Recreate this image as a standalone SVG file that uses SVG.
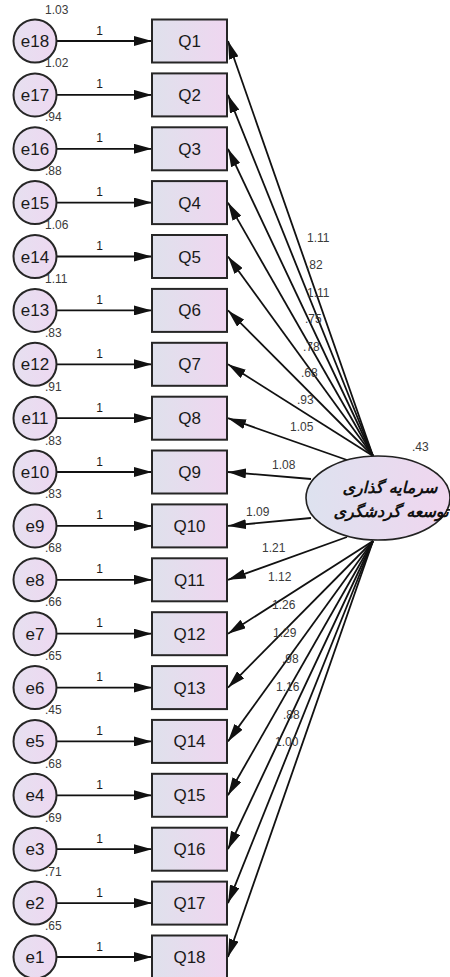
<svg xmlns="http://www.w3.org/2000/svg" width="450" height="977" viewBox="0 0 450 977">
<style>
.box{fill:url(#gb);stroke:#262626;stroke-width:2}
.err{fill:url(#gc);stroke:#262626;stroke-width:2}
.lbl{font-family:"Liberation Sans",Arial,sans-serif;font-size:17px;fill:#1a1a1a;text-anchor:middle}
.num{font-family:"Liberation Sans",Arial,sans-serif;font-size:12px;fill:#3a3a3a}
.one{font-family:"Liberation Sans",Arial,sans-serif;font-size:12px;fill:#1a1a1a;text-anchor:middle}
.ln{stroke:#111;stroke-width:1.8;fill:none;marker-end:url(#ah)}
.fa{font-family:"DejaVu Sans",sans-serif;font-size:16px;font-weight:bold;font-style:italic;fill:#111;text-anchor:middle}
</style>
<defs>
<linearGradient id="gb" x1="0" y1="0" x2="1" y2="0"><stop offset="0" stop-color="#dfe1ec"/><stop offset="1" stop-color="#efd6f0"/></linearGradient>
<linearGradient id="gc" x1="0" y1="0" x2="1" y2="0"><stop offset="0" stop-color="#e6e0f0"/><stop offset="1" stop-color="#eed8f1"/></linearGradient>
<linearGradient id="ge" x1="0" y1="0" x2="1" y2="0"><stop offset="0" stop-color="#dde2ef"/><stop offset="1" stop-color="#f0d6ef"/></linearGradient>
<marker id="ah" markerUnits="userSpaceOnUse" markerWidth="18" markerHeight="10" refX="18" refY="5" orient="auto"><path d="M0,0 L18,5 L0,10 z" fill="#111"/></marker>
</defs>

<g id="connectors">
<line class="ln" x1="57" y1="41" x2="152" y2="41"/>
<line class="ln" x1="57" y1="94.9" x2="152" y2="94.9"/>
<line class="ln" x1="57" y1="148.8" x2="152" y2="148.8"/>
<line class="ln" x1="57" y1="202.6" x2="152" y2="202.6"/>
<line class="ln" x1="57" y1="256.5" x2="152" y2="256.5"/>
<line class="ln" x1="57" y1="310.4" x2="152" y2="310.4"/>
<line class="ln" x1="57" y1="364.3" x2="152" y2="364.3"/>
<line class="ln" x1="57" y1="418.2" x2="152" y2="418.2"/>
<line class="ln" x1="57" y1="472" x2="152" y2="472"/>
<line class="ln" x1="57" y1="525.9" x2="152" y2="525.9"/>
<line class="ln" x1="57" y1="579.8" x2="152" y2="579.8"/>
<line class="ln" x1="57" y1="633.7" x2="152" y2="633.7"/>
<line class="ln" x1="57" y1="687.6" x2="152" y2="687.6"/>
<line class="ln" x1="57" y1="741.4" x2="152" y2="741.4"/>
<line class="ln" x1="57" y1="795.3" x2="152" y2="795.3"/>
<line class="ln" x1="57" y1="849.2" x2="152" y2="849.2"/>
<line class="ln" x1="57" y1="903.1" x2="152" y2="903.1"/>
<line class="ln" x1="57" y1="957" x2="152" y2="957"/>
<line class="ln" x1="373" y1="456" x2="228" y2="41"/>
<line class="ln" x1="373" y1="456" x2="228" y2="94.9"/>
<line class="ln" x1="373" y1="456" x2="228" y2="148.8"/>
<line class="ln" x1="373" y1="456" x2="228" y2="202.6"/>
<line class="ln" x1="373" y1="456" x2="228" y2="256.5"/>
<line class="ln" x1="373" y1="456" x2="228" y2="310.4"/>
<line class="ln" x1="373" y1="456" x2="228" y2="364.3"/>
<line class="ln" x1="347" y1="460" x2="228" y2="418.2"/>
<line class="ln" x1="311" y1="479" x2="228" y2="472"/>
<line class="ln" x1="311" y1="518" x2="228" y2="525.9"/>
<line class="ln" x1="347" y1="537" x2="228" y2="579.8"/>
<line class="ln" x1="373" y1="541" x2="228" y2="633.7"/>
<line class="ln" x1="373" y1="541" x2="228" y2="687.6"/>
<line class="ln" x1="373" y1="541" x2="228" y2="741.4"/>
<line class="ln" x1="373" y1="541" x2="228" y2="795.3"/>
<line class="ln" x1="373" y1="541" x2="228" y2="849.2"/>
<line class="ln" x1="373" y1="541" x2="228" y2="903.1"/>
<line class="ln" x1="373" y1="541" x2="228" y2="957"/>
<text class="one" x="99.5" y="34.5">1</text>
<text class="one" x="99.5" y="88.4">1</text>
<text class="one" x="99.5" y="142.3">1</text>
<text class="one" x="99.5" y="196.1">1</text>
<text class="one" x="99.5" y="250">1</text>
<text class="one" x="99.5" y="303.9">1</text>
<text class="one" x="99.5" y="357.8">1</text>
<text class="one" x="99.5" y="411.7">1</text>
<text class="one" x="99.5" y="465.5">1</text>
<text class="one" x="99.5" y="519.4">1</text>
<text class="one" x="99.5" y="573.3">1</text>
<text class="one" x="99.5" y="627.2">1</text>
<text class="one" x="99.5" y="681.1">1</text>
<text class="one" x="99.5" y="734.9">1</text>
<text class="one" x="99.5" y="788.8">1</text>
<text class="one" x="99.5" y="842.7">1</text>
<text class="one" x="99.5" y="896.6">1</text>
<text class="one" x="99.5" y="950.5">1</text>
<text class="num" x="307" y="242">1.11</text>
<text class="num" x="306" y="269">.82</text>
<text class="num" x="307" y="297">1.11</text>
<text class="num" x="305" y="323">.75</text>
<text class="num" x="303" y="351">.78</text>
<text class="num" x="301" y="377">.68</text>
<text class="num" x="297" y="404">.93</text>
<text class="num" x="290" y="431">1.05</text>
<text class="num" x="272" y="469">1.08</text>
<text class="num" x="246" y="516">1.09</text>
<text class="num" x="262" y="552">1.21</text>
<text class="num" x="268" y="581">1.12</text>
<text class="num" x="272" y="609">1.26</text>
<text class="num" x="273" y="637">1.29</text>
<text class="num" x="282" y="663">.98</text>
<text class="num" x="276" y="691">1.16</text>
<text class="num" x="283" y="719">.88</text>
<text class="num" x="275" y="746">1.00</text>
</g>

<g id="latent">
<ellipse cx="378" cy="498" rx="72" ry="42" fill="url(#ge)" stroke="#222" stroke-width="1.6"/>
<text class="fa" x="390" y="493">سرمایه گذاری</text>
<text class="fa" x="391" y="517">توسعه گردشگری</text>
<text class="num" x="412" y="451">.43</text>
</g>

<g id="Q1"><rect class="box" x="152" y="19.5" width="75" height="43"/><text class="lbl" x="189.5" y="47">Q1</text></g>
<g id="Q2"><rect class="box" x="152" y="73.4" width="75" height="43"/><text class="lbl" x="189.5" y="100.9">Q2</text></g>
<g id="Q3"><rect class="box" x="152" y="127.3" width="75" height="43"/><text class="lbl" x="189.5" y="154.8">Q3</text></g>
<g id="Q4"><rect class="box" x="152" y="181.1" width="75" height="43"/><text class="lbl" x="189.5" y="208.6">Q4</text></g>
<g id="Q5"><rect class="box" x="152" y="235" width="75" height="43"/><text class="lbl" x="189.5" y="262.5">Q5</text></g>
<g id="Q6"><rect class="box" x="152" y="288.9" width="75" height="43"/><text class="lbl" x="189.5" y="316.4">Q6</text></g>
<g id="Q7"><rect class="box" x="152" y="342.8" width="75" height="43"/><text class="lbl" x="189.5" y="370.3">Q7</text></g>
<g id="Q8"><rect class="box" x="152" y="396.7" width="75" height="43"/><text class="lbl" x="189.5" y="424.2">Q8</text></g>
<g id="Q9"><rect class="box" x="152" y="450.5" width="75" height="43"/><text class="lbl" x="189.5" y="478">Q9</text></g>
<g id="Q10"><rect class="box" x="152" y="504.4" width="75" height="43"/><text class="lbl" x="189.5" y="531.9">Q10</text></g>
<g id="Q11"><rect class="box" x="152" y="558.3" width="75" height="43"/><text class="lbl" x="189.5" y="585.8">Q11</text></g>
<g id="Q12"><rect class="box" x="152" y="612.2" width="75" height="43"/><text class="lbl" x="189.5" y="639.7">Q12</text></g>
<g id="Q13"><rect class="box" x="152" y="666.1" width="75" height="43"/><text class="lbl" x="189.5" y="693.6">Q13</text></g>
<g id="Q14"><rect class="box" x="152" y="719.9" width="75" height="43"/><text class="lbl" x="189.5" y="747.4">Q14</text></g>
<g id="Q15"><rect class="box" x="152" y="773.8" width="75" height="43"/><text class="lbl" x="189.5" y="801.3">Q15</text></g>
<g id="Q16"><rect class="box" x="152" y="827.7" width="75" height="43"/><text class="lbl" x="189.5" y="855.2">Q16</text></g>
<g id="Q17"><rect class="box" x="152" y="881.6" width="75" height="43"/><text class="lbl" x="189.5" y="909.1">Q17</text></g>
<g id="Q18"><rect class="box" x="152" y="935.5" width="75" height="43"/><text class="lbl" x="189.5" y="963">Q18</text></g>

<g id="e18"><circle class="err" cx="35" cy="41" r="21.5"/><text class="lbl" x="35" y="47">e18</text><text class="num" x="45" y="13.5">1.03</text></g>
<g id="e17"><circle class="err" cx="35" cy="94.9" r="21.5"/><text class="lbl" x="35" y="100.9">e17</text><text class="num" x="45" y="67.4">1.02</text></g>
<g id="e16"><circle class="err" cx="35" cy="148.8" r="21.5"/><text class="lbl" x="35" y="154.8">e16</text><text class="num" x="45" y="121.3">.94</text></g>
<g id="e15"><circle class="err" cx="35" cy="202.6" r="21.5"/><text class="lbl" x="35" y="208.6">e15</text><text class="num" x="45" y="175.1">.88</text></g>
<g id="e14"><circle class="err" cx="35" cy="256.5" r="21.5"/><text class="lbl" x="35" y="262.5">e14</text><text class="num" x="45" y="229">1.06</text></g>
<g id="e13"><circle class="err" cx="35" cy="310.4" r="21.5"/><text class="lbl" x="35" y="316.4">e13</text><text class="num" x="45" y="282.9">1.11</text></g>
<g id="e12"><circle class="err" cx="35" cy="364.3" r="21.5"/><text class="lbl" x="35" y="370.3">e12</text><text class="num" x="45" y="336.8">.83</text></g>
<g id="e11"><circle class="err" cx="35" cy="418.2" r="21.5"/><text class="lbl" x="35" y="424.2">e11</text><text class="num" x="45" y="390.7">.91</text></g>
<g id="e10"><circle class="err" cx="35" cy="472" r="21.5"/><text class="lbl" x="35" y="478">e10</text><text class="num" x="45" y="444.5">.83</text></g>
<g id="e9"><circle class="err" cx="35" cy="525.9" r="21.5"/><text class="lbl" x="35" y="531.9">e9</text><text class="num" x="45" y="498.4">.83</text></g>
<g id="e8"><circle class="err" cx="35" cy="579.8" r="21.5"/><text class="lbl" x="35" y="585.8">e8</text><text class="num" x="45" y="552.3">.68</text></g>
<g id="e7"><circle class="err" cx="35" cy="633.7" r="21.5"/><text class="lbl" x="35" y="639.7">e7</text><text class="num" x="45" y="606.2">.66</text></g>
<g id="e6"><circle class="err" cx="35" cy="687.6" r="21.5"/><text class="lbl" x="35" y="693.6">e6</text><text class="num" x="45" y="660.1">.65</text></g>
<g id="e5"><circle class="err" cx="35" cy="741.4" r="21.5"/><text class="lbl" x="35" y="747.4">e5</text><text class="num" x="45" y="713.9">.45</text></g>
<g id="e4"><circle class="err" cx="35" cy="795.3" r="21.5"/><text class="lbl" x="35" y="801.3">e4</text><text class="num" x="45" y="767.8">.68</text></g>
<g id="e3"><circle class="err" cx="35" cy="849.2" r="21.5"/><text class="lbl" x="35" y="855.2">e3</text><text class="num" x="45" y="821.7">.69</text></g>
<g id="e2"><circle class="err" cx="35" cy="903.1" r="21.5"/><text class="lbl" x="35" y="909.1">e2</text><text class="num" x="45" y="875.6">.71</text></g>
<g id="e1"><circle class="err" cx="35" cy="957" r="21.5"/><text class="lbl" x="35" y="963">e1</text><text class="num" x="45" y="929.5">.65</text></g>
</svg>
